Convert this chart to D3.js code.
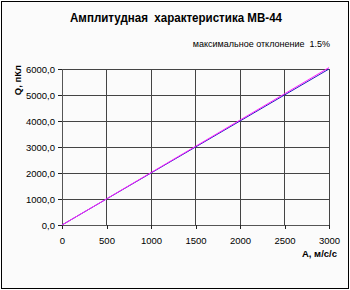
<!DOCTYPE html>
<html>
<head>
<meta charset="utf-8">
<script src="https://cdn.jsdelivr.net/npm/d3@7"></script>
<style>
  body { margin: 0; background: #fff; }
  text { font-family: "Liberation Sans", Arial, sans-serif; white-space: pre; }
</style>
</head>
<body>
<div id="container"></div>
<script>
var WIDTH = 350,
    HEIGHT = 290;

// Data
var accel = [0, 500, 1000, 1500, 2000, 2500, 3000];          // A, м/с/с
var chargeMeasured = [0, 1005, 2015, 3025, 4035, 5045, 6055]; // magenta
var chargeIdeal = [0, 1000, 2000, 3000, 4000, 5000, 6000];    // blue
var xTicks = [0, 500, 1000, 1500, 2000, 2500, 3000];
var yTicks = [0, 1000, 2000, 3000, 4000, 5000, 6000];

var titleText = 'Амплитудная  характеристика МВ-44',
    noteText = 'максимальное отклонение  1.5%',
    yLabel = 'Q, пКл',
    xLabel = 'A, м/с/с';

var plot = {left: 62, right: 329, top: 69, bottom: 225};

var svg = d3.select('#container').append('svg')
    .attr('width', WIDTH)
    .attr('height', HEIGHT);

// outer frame
svg.append('rect')
    .attr('x', 1.5).attr('y', 1.5)
    .attr('width', WIDTH - 3).attr('height', HEIGHT - 3)
    .attr('fill', '#fbfbfb')
    .attr('stroke', '#000')
    .attr('stroke-width', 1);

var x = d3.scaleLinear().domain([0, 3000]).range([plot.left, plot.right]);
var y = d3.scaleLinear().domain([0, 6000]).range([plot.bottom, plot.top]);

// grid
var grid = svg.append('g').attr('shape-rendering', 'crispEdges');
grid.selectAll('.hg')
  .data(yTicks)
  .enter()
  .append('line')
    .attr('x1', plot.left).attr('x2', plot.right)
    .attr('y1', function(d){ return y(d); })
    .attr('y2', function(d){ return y(d); })
    .attr('stroke', '#444');
grid.selectAll('.vg')
  .data(xTicks)
  .enter()
  .append('line')
    .attr('y1', plot.top).attr('y2', plot.bottom)
    .attr('x1', function(d){ return x(d); })
    .attr('x2', function(d){ return x(d); })
    .attr('stroke', '#444');

// axes
var fmtY = function(d){ return d3.format('.1f')(d).replace('.', ','); };

var yAxis = svg.append('g')
    .attr('transform', 'translate(' + plot.left + ',0)')
    .call(d3.axisLeft(y).tickValues(yTicks).tickFormat(fmtY).tickSize(4).tickPadding(3));
var xAxis = svg.append('g')
    .attr('transform', 'translate(0,' + plot.bottom + ')')
    .call(d3.axisBottom(x).tickValues(xTicks).tickFormat(d3.format('d')).tickSize(4).tickPadding(8));

[xAxis, yAxis].forEach(function(ax) {
  ax.selectAll('path').attr('stroke', '#555').attr('shape-rendering', 'crispEdges');
  ax.selectAll('line').attr('stroke', '#222').attr('shape-rendering', 'crispEdges');
  ax.selectAll('text')
    .style('font-family', '"Liberation Sans", Arial, sans-serif')
    .style('font-size', '9.5px')
    .attr('fill', '#000');
});

// lines
var line = d3.line()
    .x(function(d){ return x(d[0]); })
    .y(function(d){ return y(d[1]); });

svg.append('path')
    .datum(accel.map(function(a, i){ return [a, chargeIdeal[i]]; }))
    .attr('d', line)
    .attr('fill', 'none')
    .attr('stroke', '#2020c0')
    .attr('stroke-width', 1);

svg.append('path')
    .datum(accel.map(function(a, i){ return [a, chargeMeasured[i]]; }))
    .attr('d', line)
    .attr('fill', 'none')
    .attr('stroke', '#ff20ff')
    .attr('stroke-width', 1);

// texts
svg.append('text')
    .attr('x', 176).attr('y', 22)
    .attr('text-anchor', 'middle')
    .style('font-size', '12px')
    .style('font-weight', 'bold')
    .attr('textLength', 212)
    .attr('lengthAdjust', 'spacingAndGlyphs')
    .text(titleText);

svg.append('text')
    .attr('x', 330).attr('y', 47)
    .attr('text-anchor', 'end')
    .style('font-size', '9px')
    .text(noteText);

svg.append('text')
    .attr('transform', 'translate(21,80) rotate(-90)')
    .attr('text-anchor', 'middle')
    .style('font-size', '9.5px')
    .style('font-weight', 'bold')
    .text(yLabel);

svg.append('text')
    .attr('x', 337).attr('y', 257)
    .attr('text-anchor', 'end')
    .style('font-size', '9.5px')
    .style('font-weight', 'bold')
    .text(xLabel);
</script>
</body>
</html>
